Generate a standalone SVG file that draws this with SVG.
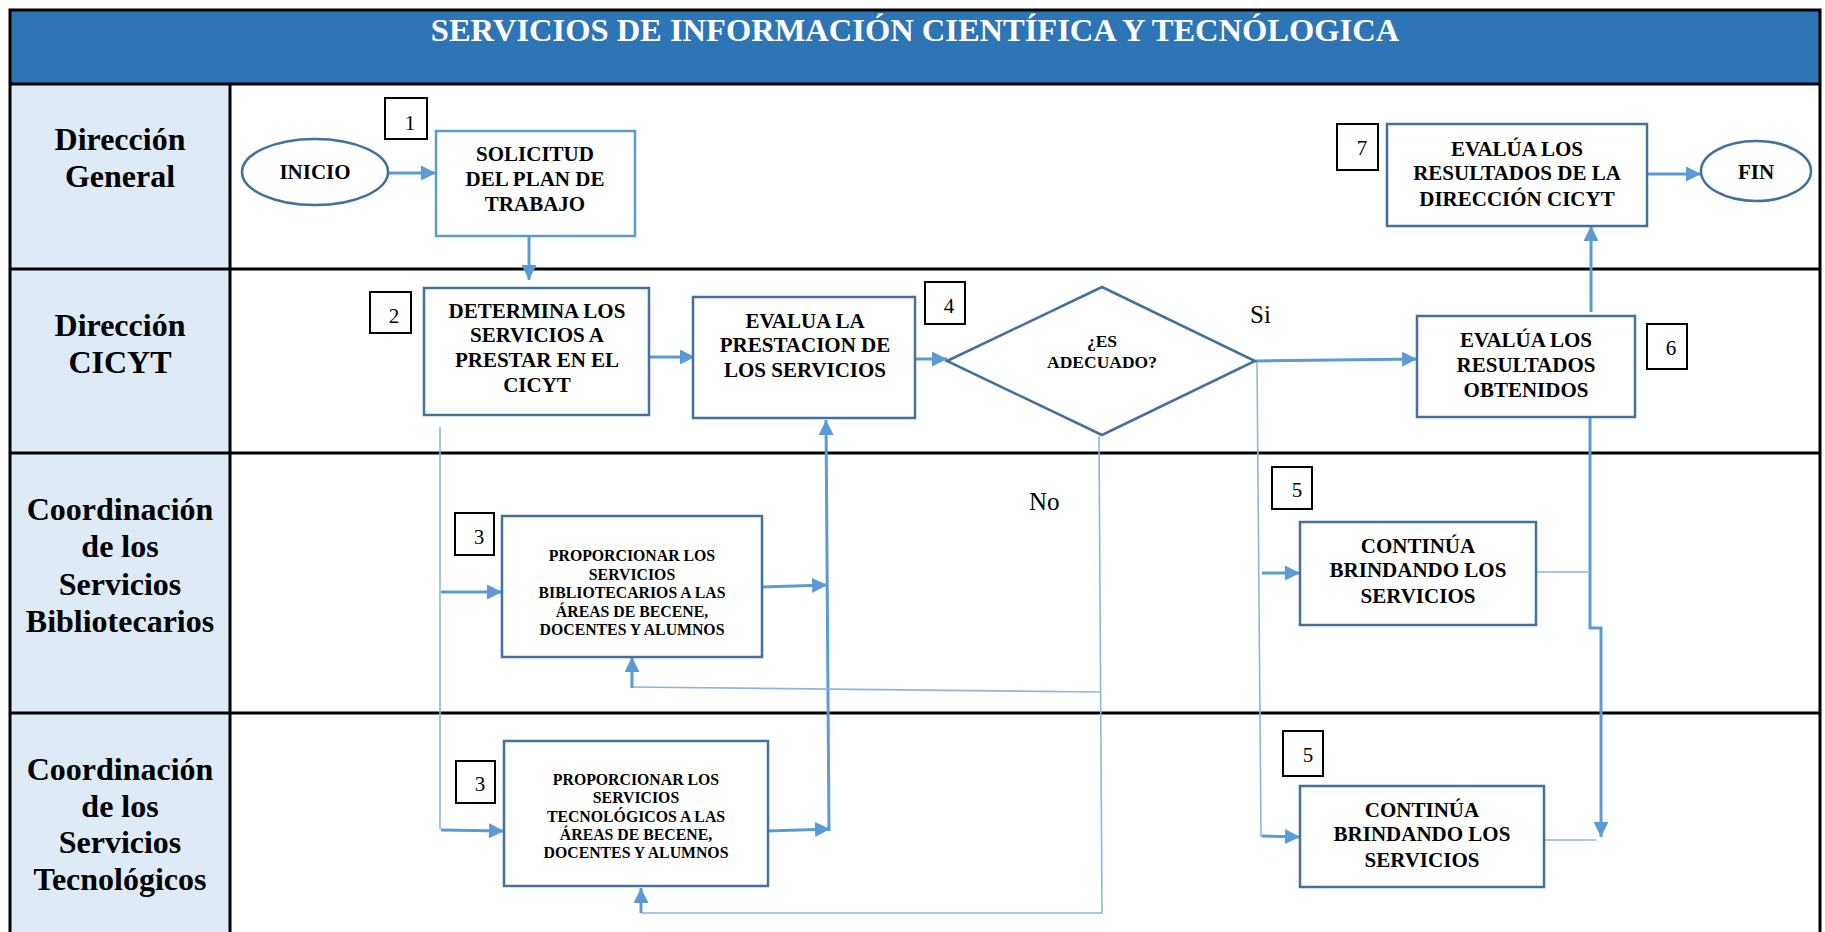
<svg xmlns="http://www.w3.org/2000/svg" width="1825" height="932" viewBox="0 0 1825 932">
<style>
.lanebg{fill:#DEEAF6;}
.lane{stroke:#000;stroke-width:3;fill:none;}
.lbl{font-family:"Liberation Serif","Times New Roman",serif;font-weight:bold;font-size:32px;fill:#000;text-anchor:middle;}
.title{font-family:"Liberation Serif","Times New Roman",serif;font-weight:bold;font-size:32.5px;fill:#fff;text-anchor:middle;}
.box{fill:#fff;stroke:#41719C;stroke-width:2.5;}
.boxl{fill:#fff;stroke:#5B9BD5;stroke-width:2.5;}
.num{fill:#fff;stroke:#000;stroke-width:2;}
.numt{font-family:"Liberation Serif","Times New Roman",serif;font-size:21px;fill:#000;text-anchor:middle;}
.t{font-family:"Liberation Serif","Times New Roman",serif;font-weight:bold;font-size:21px;fill:#000;text-anchor:middle;}
.ts{font-family:"Liberation Serif","Times New Roman",serif;font-weight:bold;font-size:15.8px;fill:#000;text-anchor:middle;}
.td{font-family:"Liberation Serif","Times New Roman",serif;font-weight:bold;font-size:17.5px;fill:#000;text-anchor:middle;}
.tl{font-family:"Liberation Serif","Times New Roman",serif;font-size:25px;fill:#000;}
.c{fill:none;stroke:#5B9BD5;stroke-width:3;}
.thin{fill:none;stroke:#8DB4E2;stroke-width:1.6;}
</style>
<defs>
<marker id="ah" markerWidth="15" markerHeight="15" refX="15" refY="7.5" orient="auto" markerUnits="userSpaceOnUse">
<path d="M0,0 L15,7.5 L0,15 Z" fill="#5B9BD5"/>
</marker>
</defs>
<g id="table">
<rect x="0" y="0" width="1825" height="932" fill="#fff"/>
<rect x="9" y="9" width="1811" height="75" fill="#2E75B6"/>
<rect x="9" y="84" width="221" height="848" class="lanebg"/>
<text class="title" x="915" y="41">SERVICIOS DE INFORMACIÓN CIENTÍFICA Y TECNÓLOGICA</text>
<path class="lane" d="M10,932 V10 H1820 V932"/>
<path class="lane" d="M10,84 H1820 M10,269 H1820 M10,453 H1820 M10,713 H1820 M230,84 V932"/>
<text class="lbl" x="120" y="150">Dirección</text>
<text class="lbl" x="120" y="187">General</text>
<text class="lbl" x="120" y="336">Dirección</text>
<text class="lbl" x="120" y="373">CICYT</text>
<text class="lbl" x="120" y="520">Coordinación</text>
<text class="lbl" x="120" y="557">de los</text>
<text class="lbl" x="120" y="595">Servicios</text>
<text class="lbl" x="120" y="632">Bibliotecarios</text>
<text class="lbl" x="120" y="780">Coordinación</text>
<text class="lbl" x="120" y="817">de los</text>
<text class="lbl" x="120" y="853">Servicios</text>
<text class="lbl" x="120" y="890">Tecnológicos</text>
</g>
<g id="connectors">
<path class="c" d="M388,173 H436" marker-end="url(#ah)"/>
<path class="c" d="M529,236 V280" marker-end="url(#ah)"/>
<path class="c" d="M649,357 H695" marker-end="url(#ah)"/>
<path class="c" d="M915,359 H947" marker-end="url(#ah)"/>
<path class="c" d="M1255,361 L1417,359" marker-end="url(#ah)"/>
<path class="c" d="M1591,312 V226" marker-end="url(#ah)"/>
<path class="c" d="M1647,174 H1701" marker-end="url(#ah)"/>
<path class="thin" d="M440,427 V829"/>
<path class="c" d="M441,592 H502" marker-end="url(#ah)"/>
<path class="c" d="M441,830 L504,831" marker-end="url(#ah)"/>
<path class="c" d="M762,587 L827,585" marker-end="url(#ah)"/>
<path class="c" d="M768,831 L830,829" marker-end="url(#ah)"/>
<path class="c" d="M829,831 L826,420" marker-end="url(#ah)"/>
<path class="thin" d="M1099,436 L1102,913 H641"/>
<path class="c" d="M641,913 V888" marker-end="url(#ah)"/>
<path class="thin" d="M1101,692 L632,687"/>
<path class="c" d="M632,688 V657" marker-end="url(#ah)"/>
<path class="thin" d="M1257,362 L1261,837"/>
<path class="c" d="M1262,573 H1300" marker-end="url(#ah)"/>
<path class="c" d="M1262,836 L1300,837" marker-end="url(#ah)"/>
<path class="c" d="M1590,417 V628 H1601 V837" marker-end="url(#ah)"/>
<path class="thin" d="M1536,572 H1590"/>
<path class="thin" d="M1544,840 H1596"/>
<text class="tl" x="1250" y="323">Si</text>
<text class="tl" x="1029" y="510">No</text>
</g>
<g id="inicio">
<ellipse cx="315" cy="172" rx="73" ry="33" class="box"/>
<text class="t" x="315" y="179">INICIO</text>
</g>
<g id="step1">
<rect x="385" y="98" width="42" height="41" class="num"/>
<text class="numt" x="410" y="130">1</text>
<rect x="436" y="131" width="199" height="105" class="boxl"/>
<text class="t" x="535" y="161">SOLICITUD</text>
<text class="t" x="535" y="186">DEL PLAN DE</text>
<text class="t" x="535" y="211">TRABAJO</text>
</g>
<g id="step2">
<rect x="370" y="292" width="41" height="41" class="num"/>
<text class="numt" x="394" y="323">2</text>
<rect x="424" y="288" width="225" height="127" class="box"/>
<text class="t" x="537" y="318">DETERMINA LOS</text>
<text class="t" x="537" y="342">SERVICIOS A</text>
<text class="t" x="537" y="367">PRESTAR EN EL</text>
<text class="t" x="537" y="392">CICYT</text>
</g>
<g id="step3b">
<rect x="455" y="513" width="39" height="42" class="num"/>
<text class="numt" x="479" y="544">3</text>
<rect x="502" y="516" width="260" height="141" class="box"/>
<text class="ts" x="632" y="561">PROPORCIONAR LOS</text>
<text class="ts" x="632" y="579.5">SERVICIOS</text>
<text class="ts" x="632" y="598">BIBLIOTECARIOS A LAS</text>
<text class="ts" x="632" y="616.5">ÁREAS DE BECENE,</text>
<text class="ts" x="632" y="635">DOCENTES Y ALUMNOS</text>
</g>
<g id="step3t">
<rect x="456" y="761" width="39" height="42" class="num"/>
<text class="numt" x="480" y="791">3</text>
<rect x="504" y="741" width="264" height="145" class="box"/>
<text class="ts" x="636" y="785">PROPORCIONAR LOS</text>
<text class="ts" x="636" y="803">SERVICIOS</text>
<text class="ts" x="636" y="822">TECNOLÓGICOS A LAS</text>
<text class="ts" x="636" y="840">ÁREAS DE BECENE,</text>
<text class="ts" x="636" y="858">DOCENTES Y ALUMNOS</text>
</g>
<g id="step4">
<rect x="925" y="282" width="40" height="42" class="num"/>
<text class="numt" x="949" y="313">4</text>
<rect x="693" y="297" width="222" height="121" class="box"/>
<text class="t" x="805" y="328">EVALUA LA</text>
<text class="t" x="805" y="352">PRESTACION DE</text>
<text class="t" x="805" y="377">LOS SERVICIOS</text>
</g>
<g id="decision">
<polygon points="947,361 1102,287 1255,361 1102,435" class="box"/>
<text class="td" x="1102" y="347">¿ES</text>
<text class="td" x="1102" y="368">ADECUADO?</text>
</g>
<g id="step5a">
<rect x="1272" y="467" width="40" height="42" class="num"/>
<text class="numt" x="1297" y="497">5</text>
<rect x="1300" y="522" width="236" height="103" class="box"/>
<text class="t" x="1418" y="553">CONTINÚA</text>
<text class="t" x="1418" y="577">BRINDANDO LOS</text>
<text class="t" x="1418" y="603">SERVICIOS</text>
</g>
<g id="step5b">
<rect x="1283" y="731" width="40" height="45" class="num"/>
<text class="numt" x="1308" y="762">5</text>
<rect x="1300" y="786" width="244" height="101" class="box"/>
<text class="t" x="1422" y="817">CONTINÚA</text>
<text class="t" x="1422" y="841">BRINDANDO LOS</text>
<text class="t" x="1422" y="867">SERVICIOS</text>
</g>
<g id="step6">
<rect x="1647" y="324" width="40" height="45" class="num"/>
<text class="numt" x="1671" y="355">6</text>
<rect x="1417" y="316" width="218" height="101" class="box"/>
<text class="t" x="1526" y="347">EVALÚA LOS</text>
<text class="t" x="1526" y="372">RESULTADOS</text>
<text class="t" x="1526" y="397">OBTENIDOS</text>
</g>
<g id="step7">
<rect x="1337" y="124" width="41" height="46" class="num"/>
<text class="numt" x="1362" y="155">7</text>
<rect x="1387" y="124" width="260" height="102" class="box"/>
<text class="t" x="1517" y="156">EVALÚA LOS</text>
<text class="t" x="1517" y="180">RESULTADOS DE LA</text>
<text class="t" x="1517" y="206">DIRECCIÓN CICYT</text>
</g>
<g id="fin">
<ellipse cx="1756" cy="171" rx="55" ry="30" class="box"/>
<text class="t" x="1756" y="179">FIN</text>
</g>
</svg>
